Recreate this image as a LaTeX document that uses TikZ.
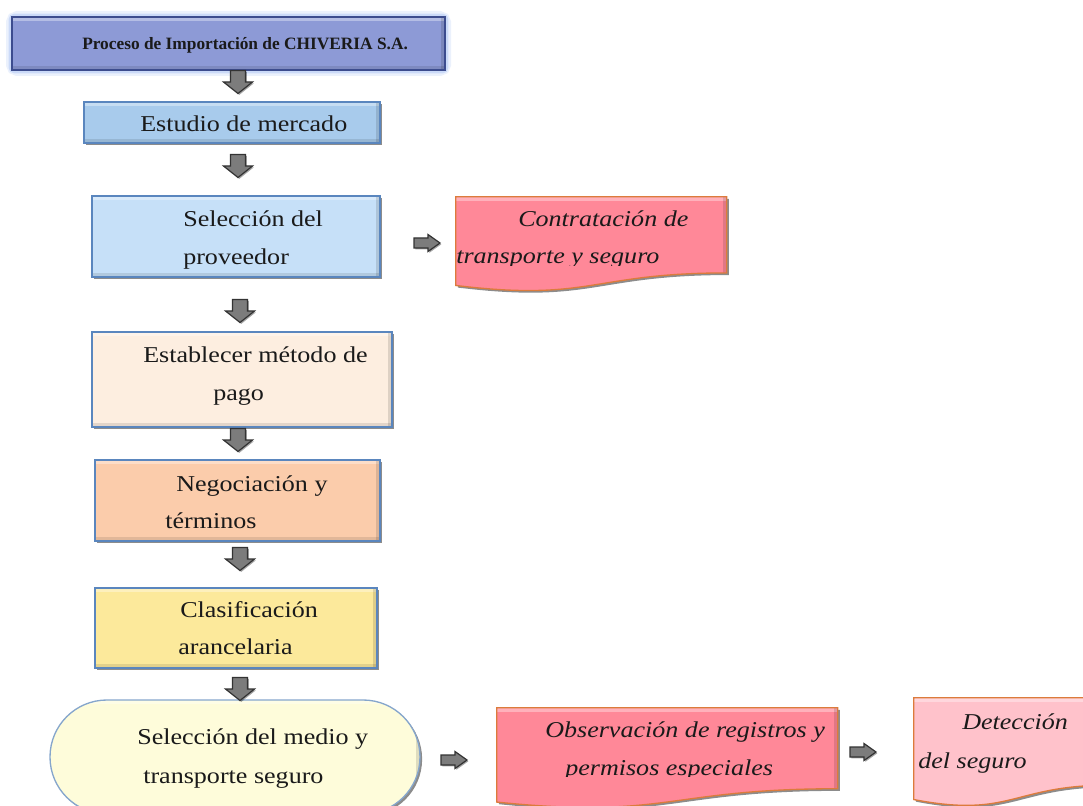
\documentclass[tikz,border=0pt]{standalone}
\usepackage{fontspec}
\setmainfont{Liberation Serif}
\newfontfamily\boxfont[FakeStretch=1.15]{Liberation Serif}
\usetikzlibrary{shapes.misc,shadows}

\definecolor{titlefill}{HTML}{8D9AD6}
\definecolor{titleedge}{HTML}{3C4C8E}
\definecolor{glowblue}{HTML}{8FB0F0}
\definecolor{blueA}{HTML}{A8CBEC}
\definecolor{blueB}{HTML}{C6E0F8}
\definecolor{peachA}{HTML}{FDEEE0}
\definecolor{peachB}{HTML}{FBCCAB}
\definecolor{yellowA}{HTML}{FCE99B}
\definecolor{cream}{HTML}{FEFCDA}
\definecolor{boxedge}{HTML}{5A86BE}
\definecolor{termedge}{HTML}{86A6CC}
\definecolor{pinkA}{HTML}{FF8898}
\definecolor{pinkB}{HTML}{FFC2CB}
\definecolor{orangeedge}{HTML}{DC7B3C}
\definecolor{arrowfill}{HTML}{7C7C7C}
\definecolor{ink}{HTML}{1A1A1A}

% one unit = one pixel of the 1083 x 806 sheet
\def\px{0.75pt}

% flowchart "document" outline with a wavy lower edge, hung from a node's north west corner
\newcommand\docshape[4]{%
  \path[#4, shift={(#1.north west)}]
    (0,0) -- (#2,0) -- (#2,{0.802*#3})
    .. controls ({0.5*#2},{0.802*#3}) and ({0.5*#2},{1.108*#3}) .. (0,{0.934*#3}) -- cycle;}

\tikzset{
  sz/.style 2 args={minimum width=#1*\px, minimum height=#2*\px},
  dropsh/.style={drop shadow={shadow xshift=1.6pt, shadow yshift=-1.6pt, opacity=.45, fill=black}},
  boxbevel/.style={path picture={
      \fill[white,opacity=.35] (path picture bounding box.north west)
        rectangle ([yshift=-3pt]path picture bounding box.north east);
      \fill[black,opacity=.12] ([xshift=-3pt]path picture bounding box.north east)
        rectangle (path picture bounding box.south east);
      \fill[black,opacity=.10] ([yshift=3pt]path picture bounding box.south west)
        rectangle (path picture bounding box.south east);}},
  stepbox/.style={rectangle, inner sep=0, draw=boxedge, line width=1pt, fill=#1, dropsh, boxbevel},
  frame/.style={rectangle, inner sep=0, draw=none},
  docfill/.style={draw=orangeedge, line width=1pt, fill=#1, dropsh, boxbevel},
  lbl/.style={anchor=base west, inner sep=0, text=ink, font={\boxfont\fontsize{17}{20}\selectfont}},
  ilbl/.style={anchor=base west, inner sep=0, text=ink, font={\boxfont\itshape\fontsize{17}{20}\selectfont}},
  blockarrow/.style={draw=black!80, line width=.9pt, fill=arrowfill, line join=miter,
    drop shadow={shadow xshift=1pt, shadow yshift=-1pt, opacity=.35, fill=black}},
  pics/downblock/.style={code={
    \path[blockarrow] (-7.5,-11.5) -- (7.5,-11.5) -- (7.5,0) -- (14.5,0) -- (0,11.5)
      -- (-14.5,0) -- (-7.5,0) -- cycle;}},
  pics/rightblock/.style={code={
    \path[blockarrow] (-13,-5) -- (1,-5) -- (1,-8.5) -- (13,0) -- (1,8.5)
      -- (1,5) -- (-13,5) -- cycle;}},
}

\begin{document}
\begin{tikzpicture}[x=0.75pt, y=-0.75pt]
\useasboundingbox (0,0) rectangle (1083,806);
\clip (0,0) rectangle (1083,806);

% ---- main column ----
\path[draw=glowblue, line width=9pt, opacity=.18, rounded corners=4pt] (12,17) rectangle (445,70);
\path[draw=glowblue, line width=5pt, opacity=.35, rounded corners=2pt] (12,17) rectangle (445,70);
\node[rectangle, inner sep=0, draw=titleedge, line width=1pt, fill=titlefill, boxbevel,
      sz={433}{53}] (title) at (228.5,43.5) {};
\node[anchor=base west, inner sep=0, text=ink, font={\bfseries\fontsize{13}{15}\selectfont}]
      (titletxt) at (82,50) {Proceso de Importación de CHIVERIA S.A.};

\node[stepbox=blueA, sz={296}{41}] (mercado) at (232,122.5) {};
\node[lbl] (mercadotxt) at (140,132) {Estudio de mercado};

\node[stepbox=blueB, sz={288}{81}] (proveedor) at (236,236.5) {};
\node[lbl] (proveedortxtA) at (183,227) {Selección del};
\node[lbl] (proveedortxtB) at (183,265) {proveedor};

\node[stepbox=peachA, sz={300}{95}] (pago) at (242,379.5) {};
\node[lbl] (pagotxtA) at (143,363) {Establecer método de};
\node[lbl] (pagotxtB) at (213,400) {pago};

\node[stepbox=peachB, sz={285}{81}] (negociacion) at (237.5,500.5) {};
\node[lbl] (negociaciontxtA) at (176,491) {Negociación y};
\node[lbl] (negociaciontxtB) at (165,528) {términos};

\node[stepbox=yellowA, sz={282}{80}] (clasificacion) at (236,628) {};
\node[lbl] (clasificaciontxtA) at (180,617) {Clasificación};
\node[lbl] (clasificaciontxtB) at (178,654) {arancelaria};

\node[rounded rectangle, inner sep=0, draw=termedge, line width=1pt, fill=cream,
      dropsh, boxbevel, sz={370}{114}] (medio) at (235,757) {};
\node[lbl] (mediotxtA) at (137,744) {Selección del medio y};
\node[lbl] (mediotxtB) at (143,783) {transporte seguro};

% ---- side documents ----
\node[frame, sz={271}{95}] (contratacion) at (591.5,244.5) {};
\docshape{contratacion}{271}{95}{docfill=pinkA}
\begin{scope}
  \clip (456,197) rectangle (727,265.5);
  \node[ilbl] (contrataciontxtA) at (518,227) {Contratación de};
  \node[ilbl] (contrataciontxtB) at (456,264) {transporte y seguro};
\end{scope}

\node[frame, sz={341}{101}] (registros) at (667.5,758.5) {};
\docshape{registros}{341}{101}{docfill=pinkA}
\begin{scope}
  \clip (497,708) rectangle (838,776.5);
  \node[ilbl] (registrostxtA) at (545,737) {Observación de registros y};
  \node[ilbl] (registrostxtB) at (565,775) {permisos especiales};
\end{scope}

\node[frame, sz={196}{109}] (deteccion) at (1012,752.5) {};
\docshape{deteccion}{196}{109}{docfill=pinkB}
\node[ilbl] (detecciontxtA) at (962,729) {Detección};
\node[ilbl] (detecciontxtB) at (918,768) {del seguro};

% ---- block arrows ----
\pic (d1) at (238,82) {downblock};
\pic (d2) at (238,166) {downblock};
\pic (d3) at (240,311) {downblock};
\pic (d4) at (238,440) {downblock};
\pic (d5) at (240,559) {downblock};
\pic (d6) at (240,689) {downblock};
\pic (r1) at (427,243) {rightblock};
\pic (r2) at (454,760) {rightblock};
\pic (r3) at (863,752) {rightblock};
\end{tikzpicture}
\end{document}
